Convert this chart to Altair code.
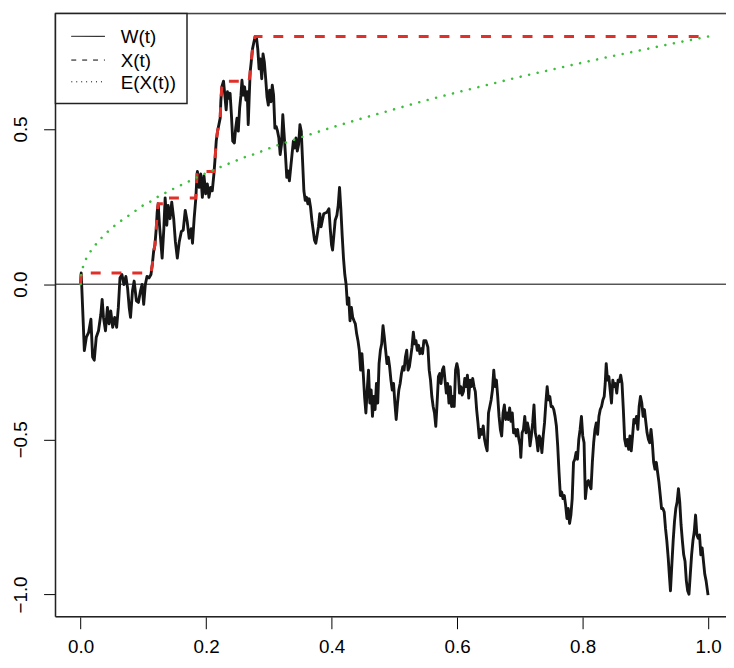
import altair as alt
import pandas as pd

# ---- data ----
t_w = [0.0, 0.001, 0.0039, 0.0060, 0.0092, 0.0129, 0.0165, 0.0192, 0.0218, 0.0250, 0.0286, 0.0323, 0.0344, 0.0365, 0.0397, 0.0428, 0.0454, 0.0481, 0.0512, 0.0544, 0.0575, 0.0602, 0.0628, 0.0659, 0.0691, 0.0722, 0.0749, 0.0775, 0.0796, 0.0827, 0.0854, 0.0890, 0.0922, 0.0954, 0.0980, 0.1006, 0.1032, 0.1059, 0.1090, 0.1122, 0.1143, 0.1164, 0.1185, 0.1206, 0.1221, 0.1237, 0.1258, 0.1279, 0.1300, 0.1327, 0.1348, 0.1374, 0.1395, 0.1426, 0.1453, 0.1484, 0.1511, 0.1542, 0.1573, 0.1605, 0.1636, 0.1668, 0.1700, 0.1731, 0.1763, 0.1784, 0.1810, 0.1836, 0.1857,
       0.1862, 0.1889, 0.1915, 0.1941, 0.1967, 0.1994, 0.2020, 0.2046, 0.2073, 0.2099, 0.2125, 0.2141, 0.2162, 0.2183, 0.2204, 0.2225, 0.2235, 0.2251, 0.2278, 0.2299, 0.2320, 0.2341, 0.2362, 0.2383, 0.2404, 0.2425, 0.2451, 0.2472, 0.2493, 0.2514, 0.2535, 0.2556, 0.2572, 0.2593, 0.2614, 0.2635, 0.2656, 0.2672, 0.2687, 0.2703, 0.2719, 0.2740, 0.2761, 0.2782, 0.2803, 0.2824, 0.2845, 0.2866, 0.2887, 0.2908, 0.2929, 0.2950, 0.2971, 0.2992, 0.3013, 0.3034, 0.3055, 0.3076, 0.3097, 0.3118, 0.3139, 0.3160, 0.3181, 0.3202, 0.3223, 0.3244, 0.3265, 0.3286, 0.3307, 0.3328, 0.3349, 0.3370, 0.3391, 0.3412, 0.3433, 0.3454, 0.3475, 0.3496, 0.3517, 0.3538, 0.3559, 0.3580, 0.3601, 0.3622, 0.3643, 0.3665, 0.3686, 0.3707, 0.3728, 0.3749, 0.3770, 0.3791, 0.3812, 0.3833, 0.3854, 0.3875,
       0.3927, 0.3958, 0.3979, 0.4000, 0.4016, 0.4037, 0.4058, 0.4085, 0.4106, 0.4127, 0.4148, 0.4169, 0.4190, 0.4211, 0.4232, 0.4252, 0.4274, 0.4294, 0.4316, 0.4337, 0.4358, 0.4379, 0.4400, 0.4421, 0.4442, 0.4463, 0.4484, 0.4505, 0.4526, 0.4547, 0.4568, 0.4589, 0.4610, 0.4631, 0.4652, 0.4673, 0.4694, 0.4715, 0.4736, 0.4757, 0.4778, 0.4799, 0.4820, 0.4841, 0.4862, 0.4883, 0.4904, 0.4925, 0.4946, 0.4967, 0.4988, 0.5009, 0.5030, 0.5051, 0.5072, 0.5093, 0.5114, 0.5135, 0.5156, 0.5177, 0.5198, 0.5219, 0.5240, 0.5261, 0.5282, 0.5303, 0.5324, 0.5345, 0.5366, 0.5387, 0.5408, 0.5429, 0.5450, 0.5471, 0.5503, 0.5535, 0.5556, 0.5577, 0.5598, 0.5619, 0.5640, 0.5661, 0.5682, 0.5703, 0.5724, 0.5745, 0.5766, 0.5787, 0.5808, 0.5829, 0.5850, 0.5871, 0.5892, 0.5913, 0.5934, 0.5955, 0.5976, 0.5997,
       0.6018, 0.6039, 0.6060, 0.6081, 0.6102, 0.6123, 0.6144, 0.6165, 0.6186, 0.6207, 0.6228, 0.6249, 0.6270, 0.6291, 0.6312, 0.6333, 0.6354, 0.6375, 0.6396, 0.6417, 0.6438, 0.6459, 0.6480, 0.6501, 0.6522, 0.6543, 0.6564, 0.6585, 0.6606, 0.6627, 0.6648, 0.6669, 0.6690, 0.6711, 0.6733, 0.6754, 0.6775, 0.6796, 0.6817, 0.6838, 0.6859, 0.6880, 0.6901, 0.6922, 0.6943, 0.6964, 0.6985, 0.7006, 0.7016, 0.7037, 0.7058, 0.7079, 0.7100, 0.7121, 0.7142, 0.7163, 0.7184, 0.7205, 0.7226, 0.7247, 0.7268, 0.7289, 0.7310, 0.7331, 0.7352, 0.7373, 0.7394, 0.7415, 0.7436, 0.7457, 0.7478, 0.7499, 0.7520, 0.7541, 0.7562, 0.7583, 0.7604, 0.7625, 0.7646, 0.7667, 0.7688, 0.7709, 0.7730, 0.7751, 0.7772, 0.7793, 0.7814, 0.7835, 0.7856, 0.7877, 0.7898, 0.7919, 0.7940, 0.7961, 0.7982, 0.8003, 0.8024, 0.8045,
       0.8072, 0.8093, 0.8114, 0.8135, 0.8156, 0.8177, 0.8198, 0.8219, 0.8240, 0.8261, 0.8282, 0.8303, 0.8324, 0.8345, 0.8361, 0.8377, 0.8398, 0.8419, 0.8440, 0.8461, 0.8482, 0.8503, 0.8524, 0.8545, 0.8566, 0.8587, 0.8608, 0.8629, 0.8650, 0.8671, 0.8692, 0.8713, 0.8734, 0.8755, 0.8776, 0.8797, 0.8818, 0.8839, 0.8860, 0.8881, 0.8902, 0.8923, 0.8944, 0.8965, 0.8986, 0.9007, 0.9028, 0.9049, 0.9070, 0.9091, 0.9112, 0.9133, 0.9154, 0.9175, 0.9196, 0.9217, 0.9238, 0.9259, 0.9280, 0.9301, 0.9322, 0.9343, 0.9365, 0.9386, 0.9401, 0.9423, 0.9444, 0.9465, 0.9486, 0.9507, 0.9528, 0.9549, 0.9570, 0.9591, 0.9612, 0.9633, 0.9654, 0.9675, 0.9696, 0.9717, 0.9738, 0.9759, 0.9780, 0.9801, 0.9822, 0.9843, 0.9864, 0.9885, 0.9906, 0.9927, 0.9948, 0.9969, 1.0]

w_vals = [0.0, 0.036, -0.107, -0.214, -0.171, -0.155, -0.113, -0.235, -0.245, -0.171, -0.150, -0.097, -0.049, -0.107, -0.150, -0.075, -0.128, -0.086, -0.139, -0.107, -0.139, -0.075, 0.020, 0.031, -0.001, 0.025, -0.012, -0.075, -0.107, -0.022, 0.010, -0.054, -0.059, -0.022, -0.001, -0.065, -0.001, 0.025, 0.020, 0.031, 0.063, 0.105, 0.126, 0.179, 0.232, 0.259, 0.190, 0.137, 0.084, 0.179, 0.278, 0.190, 0.254, 0.211, 0.264, 0.211, 0.137, 0.084, 0.137, 0.169, 0.174, 0.238, 0.201, 0.148, 0.179, 0.132, 0.211, 0.275, 0.355,
          0.363, 0.312, 0.355, 0.280, 0.349, 0.291, 0.323, 0.280, 0.312, 0.301, 0.355, 0.397, 0.461, 0.493, 0.514, 0.535, 0.588, 0.636, 0.654, 0.609, 0.562, 0.620, 0.599, 0.615, 0.546, 0.461, 0.455, 0.503, 0.535, 0.493, 0.567, 0.609, 0.657, 0.609, 0.636, 0.593, 0.620, 0.514, 0.599, 0.684, 0.715, 0.758, 0.779, 0.798, 0.795, 0.758, 0.694, 0.726, 0.662, 0.742, 0.715, 0.662, 0.604, 0.577, 0.625, 0.588, 0.641, 0.609, 0.503, 0.508, 0.493, 0.471, 0.418, 0.450, 0.546, 0.482, 0.418, 0.344, 0.365, 0.333, 0.376, 0.418, 0.461, 0.439, 0.471, 0.429, 0.450, 0.514, 0.493, 0.397, 0.301, 0.270, 0.280, 0.259, 0.275, 0.248, 0.206, 0.174, 0.142, 0.132, 0.158, 0.185, 0.227, 0.185, 0.206, 0.227,
          0.232, 0.243, 0.179, 0.126, 0.110, 0.158, 0.206, 0.222, 0.254, 0.312, 0.243, 0.158, 0.084, 0.031, -0.001, -0.065, -0.044, -0.118, -0.075, -0.107, -0.118, -0.128, -0.160, -0.182, -0.213, -0.277, -0.224, -0.288, -0.362, -0.415, -0.341, -0.277, -0.383, -0.341, -0.426, -0.362, -0.404, -0.320, -0.383, -0.256, -0.213, -0.192, -0.134, -0.171, -0.213, -0.256, -0.235, -0.266, -0.309, -0.341, -0.320, -0.383, -0.436, -0.383, -0.341, -0.320, -0.288, -0.266, -0.277, -0.235, -0.213, -0.277, -0.266, -0.235, -0.203, -0.155, -0.192, -0.182, -0.213, -0.197, -0.224, -0.208, -0.224, -0.182, -0.182, -0.203, -0.277, -0.309, -0.362, -0.394, -0.415, -0.458, -0.383, -0.298, -0.288, -0.320, -0.277, -0.266, -0.309, -0.351, -0.320, -0.383, -0.330, -0.394, -0.362, -0.394, -0.277, -0.256,
          -0.277, -0.351, -0.330, -0.357, -0.346, -0.304, -0.330, -0.293, -0.367, -0.309, -0.330, -0.304, -0.330, -0.346, -0.404, -0.447, -0.495, -0.468, -0.484, -0.457, -0.500, -0.521, -0.537, -0.415, -0.394, -0.373, -0.341, -0.277, -0.330, -0.309, -0.362, -0.426, -0.468, -0.489, -0.415, -0.389, -0.436, -0.415, -0.436, -0.399, -0.442, -0.415, -0.479, -0.468, -0.489, -0.468, -0.500, -0.521, -0.558, -0.479, -0.468, -0.426, -0.479, -0.447, -0.468, -0.521, -0.489, -0.447, -0.389, -0.479, -0.500, -0.537, -0.489, -0.500, -0.543, -0.489, -0.447, -0.383, -0.330, -0.373, -0.362, -0.394, -0.394, -0.404, -0.426, -0.457, -0.521, -0.606, -0.681, -0.670, -0.691, -0.681, -0.712, -0.755, -0.723, -0.771, -0.744, -0.691, -0.574, -0.564, -0.542, -0.564, -0.500, -0.468, -0.426, -0.489, -0.511, -0.691,
          -0.638, -0.633, -0.649, -0.659, -0.574, -0.511, -0.468, -0.447, -0.484, -0.426, -0.404, -0.394, -0.373, -0.362, -0.320, -0.256, -0.309, -0.298, -0.341, -0.383, -0.309, -0.330, -0.320, -0.351, -0.309, -0.314, -0.293, -0.320, -0.404, -0.500, -0.521, -0.500, -0.532, -0.489, -0.537, -0.489, -0.436, -0.447, -0.426, -0.468, -0.394, -0.362, -0.383, -0.426, -0.404, -0.442, -0.479, -0.500, -0.511, -0.468, -0.511, -0.574, -0.596, -0.574, -0.606, -0.638, -0.680, -0.723, -0.723, -0.734, -0.787, -0.827, -0.882, -0.946, -0.988, -0.904, -0.827, -0.765, -0.723, -0.702, -0.659, -0.702, -0.776, -0.827, -0.872, -0.893, -0.956, -0.988, -0.999, -0.935, -0.872, -0.827, -0.798, -0.744, -0.808, -0.819, -0.808, -0.872, -0.850, -0.893, -0.935, -0.956, -1.002]

t_e = [0.0, 0.001, 0.005, 0.0129, 0.0223, 0.0328, 0.0449, 0.0570, 0.0707, 0.0838, 0.0975, 0.1111, 0.1253, 0.1400, 0.1547, 0.1694, 0.1841, 0.1994, 0.2146, 0.2294, 0.2446, 0.2598, 0.2750, 0.2908, 0.3060, 0.3213, 0.3370, 0.3523, 0.3681, 0.3833, 0.42, 0.45, 0.4936, 0.55, 0.6, 0.65, 0.7, 0.75, 0.8, 0.85, 0.9, 0.95, 1.0]
e_vals = [0.0, 0.030, 0.062, 0.096, 0.123, 0.148, 0.172, 0.193, 0.213, 0.231, 0.251, 0.266, 0.284, 0.299, 0.314, 0.328, 0.343, 0.357, 0.370, 0.383, 0.395, 0.408, 0.418, 0.430, 0.442, 0.453, 0.463, 0.474, 0.484, 0.494, 0.517, 0.535, 0.560, 0.592, 0.618, 0.643, 0.668, 0.691, 0.714, 0.736, 0.757, 0.778, 0.798]

x_ticks = [0.0, 0.2, 0.4, 0.6, 0.8, 1.0]
y_ticks = [-1.0, -0.5, 0.0, 0.5]
legend_labels = ["W(t)", "X(t)", "E(X(t))"]

FONT = "Liberation Sans"
W, H = 678, 610

df = pd.DataFrame({"t": t_w, "w": w_vals})
df["xmax"] = df["w"].cummax()
de = pd.DataFrame({"t": t_e, "e": e_vals})

xs = alt.Scale(domain=[-0.04, 1.0286], nice=False, zero=False)
ys = alt.Scale(domain=[-1.072, 0.872], nice=False, zero=False)

x_axis = alt.Axis(values=x_ticks, format=".1f", grid=False, domain=False, tickSize=12,
                  tickColor="black", tickWidth=1, labelFont=FONT, labelFontSize=19,
                  labelColor="black", labelPadding=9, title=None, labelFlush=False)
y_axis = alt.Axis(values=y_ticks, format=".1f", grid=False, domain=False, tickSize=12,
                  tickColor="black", tickWidth=1, labelFont=FONT, labelFontSize=19,
                  labelColor="black", labelAngle=-90, labelAlign="center",
                  labelBaseline="alphabetic", labelPadding=17, title=None, labelFlush=False)

zero = alt.Chart(pd.DataFrame({"z": [0.0]})).mark_rule(color="black", strokeWidth=1).encode(
    y=alt.Y("z:Q", scale=ys, axis=y_axis))

wline = alt.Chart(df).mark_line(color="#161616", strokeWidth=2.9, strokeJoin="round").encode(
    x=alt.X("t:Q", scale=xs, axis=x_axis), y=alt.Y("w:Q", scale=ys), order="t:Q")

xline = alt.Chart(df).mark_line(color="#E0302A", strokeWidth=3, strokeDash=[10, 11]).encode(
    x=alt.X("t:Q", scale=xs), y=alt.Y("xmax:Q", scale=ys), order="t:Q")

eline = alt.Chart(de).mark_line(color="#3DBE3D", strokeWidth=2.6, strokeCap="round",
                                strokeDash=[0.01, 8.8], interpolate="monotone").encode(
    x=alt.X("t:Q", scale=xs), y=alt.Y("e:Q", scale=ys), order="t:Q")

box_left = alt.Chart().mark_rule(color="#222", strokeWidth=1.5).encode(
    x=alt.value(0), y=alt.value(0), y2=alt.value(H))
box_top = alt.Chart().mark_rule(color="#444", strokeWidth=1.5).encode(
    x=alt.value(0), x2=alt.value(W), y=alt.value(0))
box_bot = alt.Chart().mark_rule(color="#222", strokeWidth=1.5).encode(
    x=alt.value(0), x2=alt.value(W), y=alt.value(H))

leg_box = alt.Chart().mark_rect(fill="white", stroke="#222", strokeWidth=1.5).encode(
    x=alt.value(0), x2=alt.value(133), y=alt.value(0), y2=alt.value(91))
rows = [23, 47, 69]
dashes = [[1, 0], [5, 6], [1, 4]]
leg_layers = []
for lab, ry, dsh in zip(legend_labels, rows, dashes):
    leg_layers.append(alt.Chart().mark_rule(color="black", strokeWidth=1, strokeDash=dsh).encode(
        x=alt.value(16), x2=alt.value(50), y=alt.value(ry)))
    leg_layers.append(alt.Chart().mark_text(text=lab, font=FONT, fontSize=19, color="black",
                                            align="left", baseline="middle").encode(
        x=alt.value(66), y=alt.value(ry + 1)))

chart = alt.layer(zero, wline, xline, eline, box_left, box_top, box_bot, leg_box, *leg_layers).properties(
    width=W, height=H,
    autosize=alt.AutoSizeParams(type="none"),
    padding={"left": 48, "top": 2, "right": 0, "bottom": 40},
).configure_view(stroke=None).configure(background="white")

chart.save("out.html", embed_options={"renderer": "svg", "actions": False})
